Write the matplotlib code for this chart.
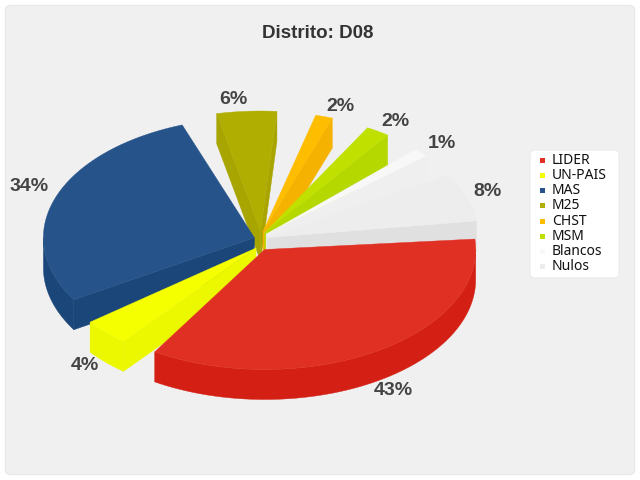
import numpy as np
import matplotlib
matplotlib.use("Agg")
import matplotlib.pyplot as plt
from matplotlib.patches import FancyBboxPatch, Polygon, Rectangle

title = "Distrito: D08"
categories = ["LIDER", "UN-PAIS", "MAS", "M25", "CHST", "MSM", "Blancos", "Nulos"]
# estimated shares; the labels show them rounded
values = [43, 4.4, 34.4, 5.6, 1.6, 2.2, 1.4, 7.9]

top_colors = ["#e03024", "#f5ff00", "#265389", "#b0ae00", "#ffbd00", "#c0e000", "#f8f8f8", "#ededed"]
side_colors = ["#d42014", "#ecf800", "#1b4679", "#a8a400", "#f5b200", "#b5d800", "#efefef", "#e0e0e0"]
draw_order = [3, 4, 5, 6, 7, 2, 1, 0]
gaps_after = [7.5, 7, 8, 10, 10, 9.5, 9.5, 3]
label_nudge = [(2, 5), (-1, 1), (1, -7), (-11, 0), (8, 1), (2, 0), (0, -1), (-6, -2)]

CX, CY, A, B, DEPTH = 261, 241, 211, 120, 30
EX, EY = 7, 10
DEG_PER_PCT = 2.94
START = 365

fig = plt.figure(figsize=(6.4, 4.8), dpi=100, facecolor="white")
ax = fig.add_axes([0, 0, 1, 1])
ax.set_xlim(0, 640)
ax.set_ylim(480, 0)
ax.axis("off")

ax.add_patch(FancyBboxPatch((5.5, 5.5), 629, 469, boxstyle="round,pad=0,rounding_size=5",
                            fc="#f0f0f0", ec="#e8e8e8", lw=1))

# clockwise layout of the slices from the data
slices = []
end = START
for v, g in zip(values, gaps_after):
    start = end - v * DEG_PER_PCT
    slices.append((start, end))
    end = start - g


def pt(x0, y0, t):
    r = np.radians(t)
    return x0 + A * np.cos(r), y0 - B * np.sin(r)


def arc(x0, y0, t1, t2, dz=0):
    r = np.radians(np.linspace(t1, t2, 80))
    return np.column_stack([x0 + A * np.cos(r), y0 - B * np.sin(r) + dz])


def poly(points, color, z):
    ax.add_patch(Polygon(points, closed=True, fc=color, ec=color, lw=0.3, zorder=z))


for z, i in enumerate(draw_order):
    t1, t2 = slices[i]
    mid = np.radians((t1 + t2) / 2)
    x0 = CX + EX * np.cos(mid)
    y0 = CY - EY * np.sin(mid)
    base = 2 + z
    c_top, c_side = top_colors[i], side_colors[i]
    # cut faces that turn towards the viewer
    if np.cos(np.radians(t1)) > 0:
        p = pt(x0, y0, t1)
        poly([(x0, y0), p, (p[0], p[1] + DEPTH), (x0, y0 + DEPTH)], c_side, base)
    if np.cos(np.radians(t2)) < 0:
        p = pt(x0, y0, t2)
        poly([(x0, y0), p, (p[0], p[1] + DEPTH), (x0, y0 + DEPTH)], c_side, base)
    # outer wall on the near half
    w1, w2 = max(t1, 180), min(t2, 360)
    if w2 > w1:
        poly(np.vstack([arc(x0, y0, w1, w2), arc(x0, y0, w2, w1, DEPTH)]), c_side, base)
    # top surface
    poly(np.vstack([[(x0, y0)], arc(x0, y0, t1, t2)]), c_top, base)

K = 1.18
for i, (t1, t2) in enumerate(slices):
    mid = np.radians((t1 + t2) / 2)
    lift = 24 if np.sin(mid) < 0 else 0
    lx = CX + A * K * 0.99 * np.cos(mid) + label_nudge[i][0]
    ly = CY - B * K * np.sin(mid) + lift + label_nudge[i][1]
    ax.text(lx, ly, f"{values[i]:.0f}%", ha="center", va="center", fontsize=14, fontweight="bold",
            family="Liberation Sans", color="#444444", zorder=30)

ax.text(318, 33, title, ha="center", va="center", fontsize=13.5, fontweight="bold",
        family="Liberation Sans", color="#333333", zorder=30)

# legend
ax.add_patch(FancyBboxPatch((530, 150), 89, 128, boxstyle="round,pad=0,rounding_size=5",
                            fc="white", ec="#ebebeb", lw=0.8, zorder=20))
for i, name in enumerate(categories):
    y = 160.5 + i * 15.15
    ax.add_patch(Rectangle((539.5, y - 2.5), 5, 5, fc=top_colors[i], ec="none", zorder=21))
    ax.text(552, y, name, ha="left", va="center", fontsize=10, family="Noto Sans",
            color="#111111", zorder=21)

fig.savefig("out.png", dpi=100)
